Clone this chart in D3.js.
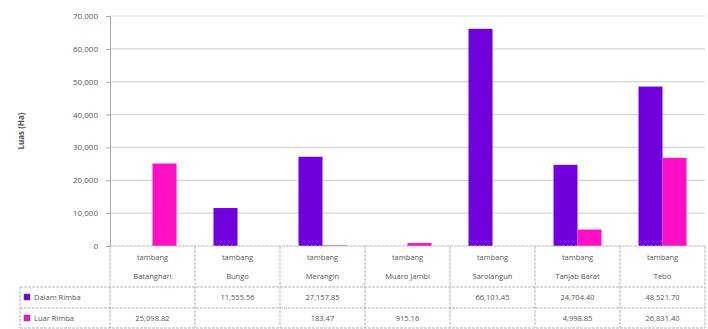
<!DOCTYPE html>
<head>
<meta charset="utf-8">
</head>
<style>
  body { margin: 0; background: #fff; }
  text { font-family: "Open Sans", "Liberation Sans", sans-serif; fill: #555; }
  .grid line { stroke: #d6d6d6; stroke-width: 1.2; }
  .tbl line { stroke: #b5b5b5; stroke-width: 1; stroke-dasharray: 3,1; }
</style>
<body>
<script src="https://d3js.org/d3.v7.min.js"></script>
<script>

var categories = ["Batanghari", "Bungo", "Merangin", "Muaro Jambi", "Sarolangun", "Tanjab Barat", "Tebo"]
var seriesNames = ["Dalam Rimba", "Luar Rimba"]
var dalamRimba = [null, 11555.56, 27157.85, null, 66101.45, 24704.40, 48521.70]
var luarRimba = [25098.82, null, 183.47, 915.16, null, 4998.85, 26831.40]
var yTicks = [0, 10000, 20000, 30000, 40000, 50000, 60000, 70000]

var width = 708, height = 329
var plot = {left: 110, right: 705, top: 16, bottom: 246}

var colors = {"Dalam Rimba": "#7000dc", "Luar Rimba": "#ff10c4"}

var rows = categories.map(function(c, i) {
  return {cat: c, values: [
    {name: "Dalam Rimba", value: dalamRimba[i]},
    {name: "Luar Rimba", value: luarRimba[i]}
  ]}
})

var svg = d3.select("body").append("svg")
    .attr("width", width)
    .attr("height", height)

var x0 = d3.scaleBand()
    .domain(categories)
    .range([plot.left, plot.right])

var x1 = d3.scaleBand()
    .domain(seriesNames)
    .range([0, x0.bandwidth()])
    .paddingOuter(0.77)

var y = d3.scaleLinear()
    .domain([0, 70000])
    .range([plot.bottom, plot.top])

var fmtTick = d3.format(",")
var fmtVal = d3.format(",.2f")

// gridlines
svg.append("g").attr("class", "grid")
  .selectAll("line")
  .data(yTicks.slice(1))
  .enter().append("line")
    .attr("x1", plot.left)
    .attr("x2", plot.right)
    .attr("y1", function(d) { return y(d) })
    .attr("y2", function(d) { return y(d) })

// y axis
var yAxis = svg.append("g")
    .attr("transform", "translate(" + plot.left + ",0)")
    .call(d3.axisLeft(y).tickValues(yTicks).tickFormat(fmtTick).tickSize(4).tickPadding(8))
yAxis.selectAll("path, line").attr("stroke", "#aaa")
yAxis.selectAll("text")
    .style("font-size", "8px")
    .attr("fill", "#555")

svg.append("text")
    .attr("transform", "translate(24," + ((plot.top + plot.bottom) / 2) + ") rotate(-90)")
    .attr("text-anchor", "middle")
    .style("font-size", "8px")
    .style("font-weight", "bold")
    .attr("fill", "#444")
    .text("Luas (Ha)")

// bars
var slice = svg.selectAll(".slice")
    .data(rows)
  .enter().append("g")
    .attr("class", "slice")
    .attr("transform", function(d) { return "translate(" + x0(d.cat) + ",0)" })

slice.selectAll("rect")
    .data(function(d) { return d.values.filter(function(v) { return v.value != null }) })
  .enter().append("rect")
    .attr("x", function(d) { return x1(d.name) })
    .attr("width", x1.bandwidth())
    .attr("y", function(d) { return y(d.value) })
    .attr("height", function(d) { return y(0) - y(d.value) })
    .style("fill", function(d) { return colors[d.name] })

// data table
var tableLeft = 20
var headerBottom = 287, row1Bottom = 308, row2Bottom = height - 1
var tbl = svg.append("g").attr("class", "tbl")

tbl.append("line").attr("x1", plot.left).attr("x2", plot.right).attr("y1", plot.bottom).attr("y2", plot.bottom)
;[headerBottom, row1Bottom, row2Bottom].forEach(function(yy) {
  tbl.append("line").attr("x1", tableLeft).attr("x2", plot.right).attr("y1", yy).attr("y2", yy)
})
tbl.append("line").attr("x1", tableLeft).attr("x2", tableLeft).attr("y1", headerBottom).attr("y2", row2Bottom)
categories.concat([null]).forEach(function(c) {
  var xx = c == null ? plot.right : x0(c)
  tbl.append("line").attr("x1", xx).attr("x2", xx).attr("y1", plot.bottom).attr("y2", row2Bottom)
})

// header labels
var head = svg.selectAll(".head")
    .data(categories)
  .enter().append("text")
    .attr("class", "head")
    .attr("x", function(d) { return x0(d) + x0.bandwidth() / 2 })
    .attr("text-anchor", "middle")
    .style("font-size", "7.5px")
head.append("tspan").attr("x", function(d) { return x0(d) + x0.bandwidth() / 2 }).attr("y", 260).text("tambang")
head.append("tspan").attr("x", function(d) { return x0(d) + x0.bandwidth() / 2 }).attr("y", 279).text(function(d) { return d })

// legend + values rows
var rowY = {"Dalam Rimba": 300, "Luar Rimba": 321}
seriesNames.forEach(function(s, si) {
  svg.append("rect")
      .attr("x", 24).attr("y", rowY[s] - 6)
      .attr("width", 6).attr("height", 6)
      .style("fill", colors[s])
      .style("stroke", "#555").style("stroke-width", 0.5)
  svg.append("text")
      .attr("x", 34).attr("y", rowY[s])
      .style("font-size", "7.5px")
      .text(s)
  svg.selectAll(".val" + si)
      .data(rows)
    .enter().append("text")
      .attr("x", function(d) { return x0(d.cat) + x0.bandwidth() / 2 })
      .attr("y", rowY[s])
      .attr("text-anchor", "middle")
      .style("font-size", "7.5px")
      .text(function(d) { var v = d.values[si].value; return v == null ? "" : fmtVal(v) })
})

</script>
</body>
